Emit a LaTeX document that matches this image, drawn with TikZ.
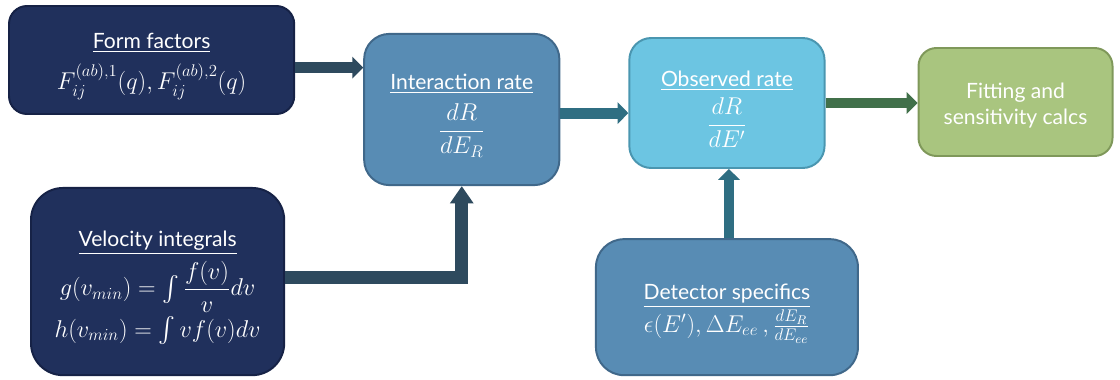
\documentclass[tikz,border=0pt]{standalone}
\usepackage{amsmath,amssymb}
\usepackage{fontspec}
\setmainfont{Lato}
\usepackage{tikz}
\usetikzlibrary{arrows.meta,positioning}
\definecolor{navyBox}{RGB}{32,48,92}
\definecolor{navyLine}{RGB}{22,34,70}
\definecolor{steelBox}{RGB}{88,140,180}
\definecolor{steelLine}{RGB}{64,104,138}
\definecolor{skyBox}{RGB}{108,197,226}
\definecolor{skyLine}{RGB}{74,150,176}
\definecolor{sageBox}{RGB}{169,197,127}
\definecolor{sageLine}{RGB}{127,152,90}
\definecolor{slateArrow}{RGB}{46,74,94}
\definecolor{tealArrow}{RGB}{47,110,130}
\definecolor{forestArrow}{RGB}{65,112,74}
\newcommand{\eqsize}{\fontsize{18}{20}\selectfont}
\newcommand{\topgap}{\rule{0pt}{20pt}}

\begin{document}
\begin{tikzpicture}[
    box/.style={draw,line width=1.4pt,align=center,text=white,inner sep=0pt,
      font=\fontsize{15}{19}\selectfont},
    arrow/.style={-{Triangle[length=0.27cm,width=0.53cm]},line width=0.27cm}
  ]
    \useasboundingbox (0,0) rectangle (28,-9.5);

    \node[box,fill=navyBox,draw=navyLine,rounded corners=0.45cm,minimum width=7.13cm,minimum height=2.7cm] (ff) at (3.79,-1.5)
      {\topgap\underline{Form factors}\\[7pt] {\eqsize$F_{ij}^{(ab),1}(q), F_{ij}^{(ab),2}(q)$}};
    \node[box,fill=navyBox,draw=navyLine,rounded corners=0.8cm,minimum width=6.33cm,minimum height=4.68cm,below=1.8cm of ff,xshift=0.15cm] (vel)
      {\topgap\underline{Velocity integrals}\\[4pt] {\eqsize$g(v_{min}) = \int \dfrac{f(v)}{v} dv$}\\[2pt] {\eqsize$h(v_{min}) = \int v f(v) dv$}};
    \node[box,fill=steelBox,draw=steelLine,rounded corners=0.63cm,minimum width=4.88cm,minimum height=3.78cm,right=1.7cm of ff,yshift=-1.2375cm] (rate)
      {\topgap\underline{Interaction rate}\\[6pt] {\eqsize$\dfrac{dR}{dE_R}$}};
    \node[box,fill=skyBox,draw=skyLine,rounded corners=0.55cm,minimum width=4.88cm,minimum height=3.25cm,right=1.7cm of rate,yshift=0.1625cm] (obs)
      {\topgap\underline{Observed rate}\\[4pt] {\eqsize$\dfrac{dR}{dE'}$}};
    \node[box,fill=sageBox,draw=sageLine,rounded corners=0.45cm,minimum width=4.85cm,minimum height=2.7cm,right=2.3cm of obs,yshift=0.025cm] (fit)
      {\rule{0pt}{16pt}Fitting and\\ sensitivity calcs};
    \node[box,fill=steelBox,draw=steelLine,rounded corners=0.7cm,minimum width=6.55cm,minimum height=3.4cm,below=1.73cm of obs] (det)
      {\topgap\underline{Detector specifics}\\[1pt] {\eqsize$\epsilon(E'), \Delta E_{ee}\,, \frac{dE_R}{dE_{ee}}$}};

    \draw[arrow,slateArrow] ([yshift=-0.19cm]ff.east) -- ([yshift=-0.19cm]ff.east -| rate.west);
    \draw[-{Triangle[length=0.43cm,width=0.56cm]},line width=0.33cm,slateArrow] ([yshift=0.11cm]vel.east) -| (rate.south);
    \draw[arrow,tealArrow] ([yshift=-0.09cm]rate.east) -- ([yshift=-0.09cm]rate.east -| obs.west);
    \draw[arrow,forestArrow] (obs.east) -- (obs.east -| fit.west);
    \draw[arrow,tealArrow] ([xshift=0.05cm]det.north) -- ([xshift=0.05cm]det.north |- obs.south);
\end{tikzpicture}
\end{document}
